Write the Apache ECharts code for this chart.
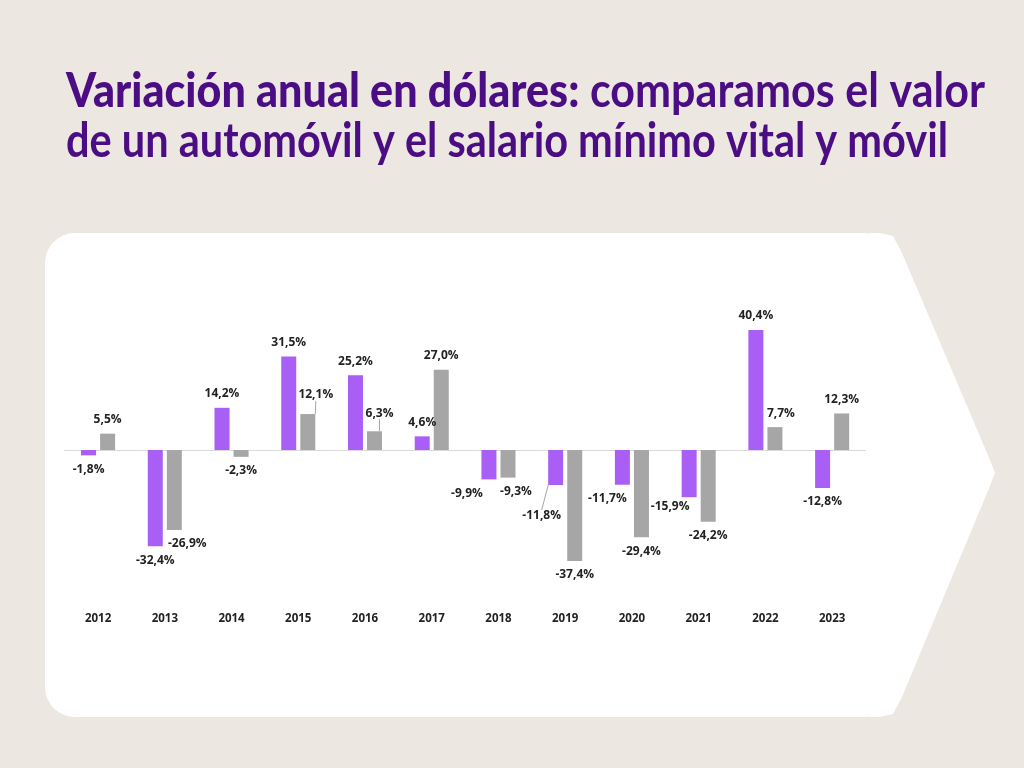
<!DOCTYPE html>
<html><head><meta charset="utf-8">
<script src="https://cdn.jsdelivr.net/npm/echarts@6/dist/echarts.min.js"></script>
<style>html,body{margin:0;padding:0;background:#ece7e0;}#c{width:1024px;height:768px;}</style>
</head><body><div id="c"></div>
<script>
const years = ['2012','2013','2014','2015','2016','2017','2018','2019','2020','2021','2022','2023'];
const automovil = [-1.8, -32.4, 14.2, 31.5, 25.2, 4.6, -9.9, -11.8, -11.7, -15.9, 40.4, -12.8];
const salario = [5.5, -26.9, -2.3, 12.1, 6.3, 27.0, -9.3, -37.4, -29.4, -24.2, 7.7, 12.3];
const titleBold = 'Variación anual en dólares:';
const titleRest = ' comparamos el valor';
const titleLine2 = 'de un automóvil y el salario mínimo vital y móvil';

const nudges = [
  {6:[-22,0], 7:[-14,17], 8:[-15,0], 9:[-19,-5]},
  {1:[13,0], 3:[8,-5], 4:[5,-4], 6:[8,0], 10:[6,0]}
];
const leaders = [[7],[3,4]];

const ctx = document.createElement('canvas').getContext('2d');
function tw(font, s){ ctx.font = font; return ctx.measureText(s).width; }
const FF = 'Lato';
const FS = 47;
const w1 = tw('900 '+FS+'px '+FF, titleBold) + tw('700 '+FS+'px '+FF, titleRest);
const w2 = tw('700 '+FS+'px '+FF, titleLine2);
const s1 = 919 / w1, s2 = 882 / w2;

function fmt(v){ return v.toFixed(1).replace('.', ',') + '%'; }
function mk(arr, si){
  return arr.map((v,i)=>({
    value: v,
    label: {position: v >= 0 ? 'top' : 'bottom'},
    labelLine: {show: leaders[si].indexOf(i) >= 0}
  }));
}
const labelStyle = {show:true, formatter: p => fmt(p.value), fontFamily:'Open Sans', fontWeight:'bold', fontSize:12, color:'#222222', distance:8};

const chart = echarts.init(document.getElementById('c'), null, {renderer:'canvas'});
chart.setOption({
  backgroundColor:'#ece7e0',
  animation:false,
  graphic:[
    {type:'rect', z:-10, shape:{x:45, y:233, width:840, height:484, r:[30,20,20,30]}, style:{fill:'#ffffff'}},
    {type:'polygon', z:-10, shape:{points:[[870,233],[880,233],[893,236],[902,253],[990,460],[995,473],[990,486],[902,697],[893,714],[880,717],[870,717]]}, style:{fill:'#ffffff'}},
    {type:'text', x:66, y:92, scaleX:s1, style:{
      text:'{b|'+titleBold+'}{m|'+titleRest+'}', verticalAlign:'middle',
      rich:{b:{fontFamily:FF, fontWeight:900, fontSize:FS, fill:'#4a0d84'}, m:{fontFamily:FF, fontWeight:700, fontSize:FS, fill:'#4a0d84'}}
    }},
    {type:'text', x:66, y:142, scaleX:s2, style:{text:titleLine2, verticalAlign:'middle', fontFamily:FF, fontWeight:700, fontSize:FS, fill:'#4a0d84'}}
  ],
  grid:{left:64.7, right:158.5, top:301.5, bottom:169.5},
  xAxis:[
    {type:'category', data:years, axisLine:{onZero:true, lineStyle:{color:'#d9d9d9', width:1}}, axisTick:{show:false}, axisLabel:{show:false}},
    {type:'category', data:years, position:'bottom', axisLine:{show:false, onZero:false}, axisTick:{show:false},
     axisLabel:{margin:14, fontFamily:'Open Sans', fontWeight:'bold', fontSize:11.5, color:'#222222'}}
  ],
  yAxis:{type:'value', min:-50, max:50, interval:50, show:false, splitLine:{show:false}},
  series:[
    {type:'bar', name:'Automóvil', data:mk(automovil,0), barWidth:15, barGap:'27%', itemStyle:{color:'#a95ff5'},
     label:labelStyle, labelLine:{lineStyle:{color:'#a6a6a6', width:1}},
     labelLayout: p => { const n = nudges[0][p.dataIndex]; return n ? {dx:n[0], dy:n[1]} : {}; }},
    {type:'bar', name:'Salario', data:mk(salario,1), barWidth:15, barGap:'27%', itemStyle:{color:'#a6a6a6'},
     label:labelStyle, labelLine:{lineStyle:{color:'#a6a6a6', width:1}},
     labelLayout: p => { const n = nudges[1][p.dataIndex]; return n ? {dx:n[0], dy:n[1]} : {}; }}
  ]
});
</script></body></html>
